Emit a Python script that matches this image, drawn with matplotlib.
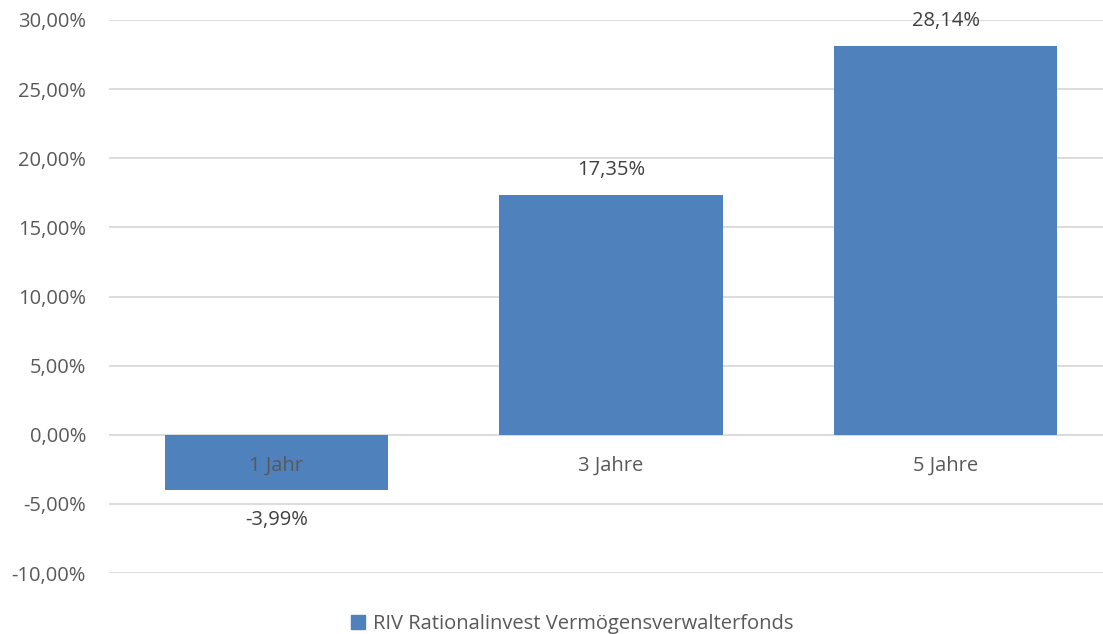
import matplotlib
matplotlib.use("Agg")
import matplotlib.pyplot as plt
from matplotlib.patches import Patch

categories = ["1 Jahr", "3 Jahre", "5 Jahre"]
values = [-3.99, 17.35, 28.14]
series_name = "RIV Rationalinvest Vermögensverwalterfonds"
yticks = [-10, -5, 0, 5, 10, 15, 20, 25, 30]

plt.rcParams['font.family'] = ['Open Sans', 'DejaVu Sans']
txt = '#595959'
blue = '#4F81BD'
fs = 14.5

fig = plt.figure(figsize=(11.03, 6.34), dpi=100)
W, H = 1103, 634
ax = fig.add_axes([109/W, 1 - 573/H, (1103-109)/W, (573-20)/H])
x = list(range(len(categories)))
ax.bar(x, values, width=0.667, color=blue, zorder=3)
ax.set_ylim(-10, 30)
ax.set_xlim(-0.5, 2.47)
ax.set_yticks(yticks)
ax.set_yticklabels([f"{v:.2f}%".replace('.', ',') for v in yticks], fontsize=fs, color=txt)
ax.tick_params(axis='y', length=0, pad=16.5)
ax.set_xticks([])
ax.grid(axis='y', color='#D9D9D9', linewidth=1.3, zorder=0)
for s in ax.spines.values():
    s.set_visible(False)

for xi, c, v in zip(x, categories, values):
    ax.annotate(c, (xi, 0), xytext=(0, -31), textcoords='offset pixels',
                ha='center', va='center', fontsize=fs, color=txt, zorder=5)
    off = 25 if v >= 0 else -30
    ax.annotate(f"{v:.2f}%".replace('.', ','), (xi, v), xytext=(0, off),
                textcoords='offset pixels', ha='center', va='center',
                fontsize=fs, color='#404040', zorder=5)

fig.legend(handles=[Patch(color=blue, label=series_name)], loc='center',
           bbox_to_anchor=(572/W, 1 - 624/H), frameon=False, fontsize=fs,
           handlelength=0.7, handleheight=0.7, handletextpad=0.4, labelcolor=txt)

fig.savefig("out.png", dpi=100)
